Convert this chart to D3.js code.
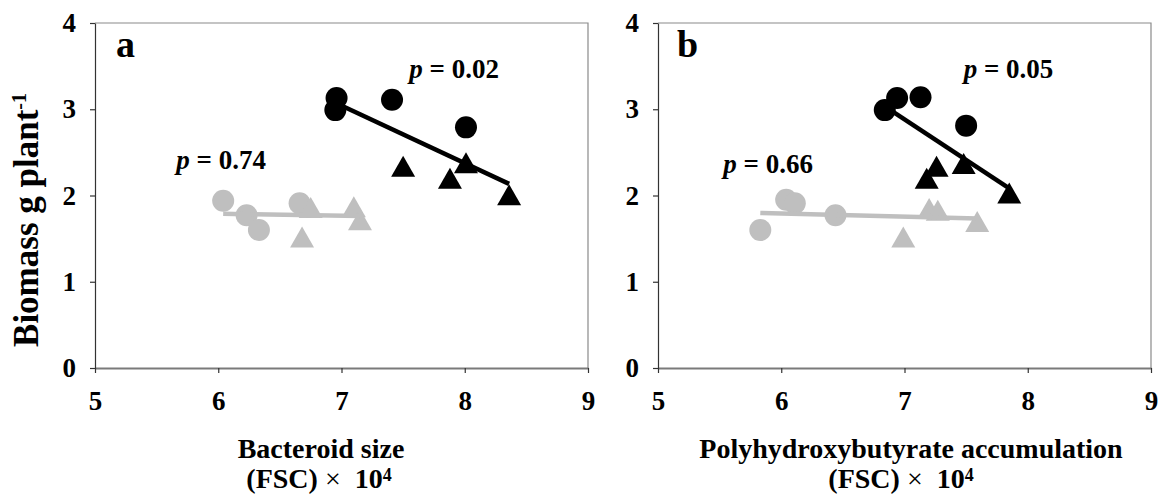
<!DOCTYPE html>
<html>
<head>
<meta charset="utf-8">
<script src="https://cdn.jsdelivr.net/npm/d3@7"></script>
<style>
  html, body { margin: 0; padding: 0; background: #fff; }
  svg { display: block; font-family: "Liberation Serif", "Times New Roman", serif; }
</style>
</head>
<body>
<svg id="chart" width="1162" height="495"></svg>
<script>
// Axis ticks shared by both panels
const xTicks = [5, 6, 7, 8, 9];
const yTicks = [0, 1, 2, 3, 4];

// Panel a: bacteroid size (FSC x 10^4) vs biomass (g plant-1)
const aBlackCircleX = [6.96, 6.95, 7.41, 8.01];
const aBlackCircleY = [3.13, 2.99, 3.11, 2.79];
const aBlackTriX    = [7.50, 7.88, 8.01, 8.36];
const aBlackTriY    = [2.34, 2.20, 2.38, 2.01];
const aGrayCircleX  = [6.04, 6.23, 6.33, 6.66];
const aGrayCircleY  = [1.94, 1.77, 1.60, 1.91];
const aGrayTriX     = [6.75, 6.68, 7.10, 7.15];
const aGrayTriY     = [1.86, 1.52, 1.87, 1.72];

// Panel b: polyhydroxybutyrate accumulation (FSC x 10^4) vs biomass
const bBlackCircleX = [6.84, 6.94, 7.13, 7.50];
const bBlackCircleY = [2.99, 3.13, 3.14, 2.81];
const bBlackTriX    = [7.18, 7.26, 7.48, 7.85];
const bBlackTriY    = [2.20, 2.34, 2.37, 2.03];
const bGrayCircleX  = [5.83, 6.04, 6.11, 6.44];
const bGrayCircleY  = [1.60, 1.95, 1.91, 1.77];
const bGrayTriX     = [6.99, 7.20, 7.27, 7.59];
const bGrayTriY     = [1.52, 1.85, 1.83, 1.70];

// p-values of the regressions
const aPValues = ["0.02", "0.74"];
const bPValues = ["0.05", "0.66"];

const BLACK = "#000000";
const GRAY = "#bfbfbf";

const svg = d3.select("#chart");
const TOP = 23, BOTTOM = 368;

function zip(xs, ys) { return xs.map((v, i) => ({ x: v, y: ys[i] })); }

function linearFit(pts) {
  const mx = d3.mean(pts, d => d.x), my = d3.mean(pts, d => d.y);
  let sxy = 0, sxx = 0;
  pts.forEach(d => { sxy += (d.x - mx) * (d.y - my); sxx += (d.x - mx) ** 2; });
  const slope = sxy / sxx;
  return { slope, intercept: my - slope * mx, x0: d3.min(pts, d => d.x), x1: d3.max(pts, d => d.x) };
}

function drawPanel(cfg) {
  const x = d3.scaleLinear().domain([5, 9]).range([cfg.left, cfg.right]);
  const y = d3.scaleLinear().domain([0, 4]).range([BOTTOM, TOP]);
  const g = svg.append("g");

  // frame: top and right sides
  g.append("path")
    .attr("d", `M${cfg.left},${TOP}H${cfg.right}V${BOTTOM}`)
    .attr("fill", "none").attr("stroke", "#8a8a8a").attr("stroke-width", 1.2);

  const xAxis = g.append("g")
    .attr("transform", `translate(0,${BOTTOM})`)
    .call(d3.axisBottom(x).tickValues(xTicks).tickSize(5).tickSizeOuter(0)
      .tickPadding(18).tickFormat(d3.format("d")));
  xAxis.select(".domain").attr("stroke", "#7a7a7a").attr("stroke-width", 1.8);

  const yAxis = g.append("g")
    .attr("transform", `translate(${cfg.left},0)`)
    .call(d3.axisLeft(y).tickValues(yTicks).tickSize(5).tickSizeOuter(0)
      .tickPadding(14).tickFormat(d3.format("d")));
  yAxis.select(".domain").attr("stroke", "#333").attr("stroke-width", 1.2);

  [xAxis, yAxis].forEach(ax => {
    ax.selectAll(".tick line").attr("stroke", "#333").attr("stroke-width", 1.2);
    ax.selectAll(".tick text")
      .attr("fill", "#000").style("font-size", "27px").style("font-weight", "bold")
      .style("font-family", "'Liberation Serif','Times New Roman',serif");
  });

  // markers and trend lines, gray group first
  const groups = [
    { circles: cfg.grayCircles, tris: cfg.grayTris, color: GRAY },
    { circles: cfg.blackCircles, tris: cfg.blackTris, color: BLACK }
  ];
  groups.forEach(grp => {
    g.append("g").selectAll("circle").data(grp.circles).join("circle")
      .attr("cx", d => x(d.x)).attr("cy", d => y(d.y)).attr("r", 11)
      .attr("fill", grp.color);
    g.append("g").selectAll("path").data(grp.tris).join("path")
      .attr("d", d => {
        const cx = x(d.x), cy = y(d.y);
        return `M${cx},${cy - 10.5}L${cx + 12},${cy + 10.5}L${cx - 12},${cy + 10.5}Z`;
      })
      .attr("fill", grp.color);
    // least-squares line through all points of the group
    const fit = linearFit(grp.circles.concat(grp.tris));
    g.append("line")
      .attr("x1", x(fit.x0)).attr("y1", y(fit.intercept + fit.slope * fit.x0))
      .attr("x2", x(fit.x1)).attr("y2", y(fit.intercept + fit.slope * fit.x1))
      .attr("stroke", grp.color).attr("stroke-width", 4.5);
  });

  // panel letter
  g.append("text")
    .attr("x", cfg.left + cfg.letterDx).attr("y", TOP + 34)
    .style("font-size", "38px").style("font-weight", "bold").text(cfg.letter);

  // p-value annotations
  cfg.pLabels.forEach(lbl => {
    const t = g.append("text")
      .attr("x", x(lbl.x)).attr("y", y(lbl.y))
      .style("font-size", "27px").style("font-weight", "bold");
    t.append("tspan").style("font-style", "italic").text("p");
    t.append("tspan").text(" = " + lbl.text);
  });

  // x-axis title, two lines
  g.append("text")
    .attr("x", cfg.titleX).attr("y", 458).attr("text-anchor", "middle")
    .style("font-size", "28px").style("font-weight", "bold").text(cfg.title);
  const t2 = g.append("text")
    .attr("x", cfg.title2X).attr("y", 488).attr("text-anchor", "middle")
    .style("font-size", "28px").style("font-weight", "bold");
  t2.append("tspan").text("(FSC) ");
  t2.append("tspan").style("font-weight", "normal").text("\u00d7");
  t2.append("tspan").text("\u00a0 10");
  t2.append("tspan").attr("dy", -7).style("font-size", "18px").text("4");
}

drawPanel({
  left: 95, right: 588, letter: "a", letterDx: 21,
  blackCircles: zip(aBlackCircleX, aBlackCircleY), blackTris: zip(aBlackTriX, aBlackTriY),
  grayCircles: zip(aGrayCircleX, aGrayCircleY), grayTris: zip(aGrayTriX, aGrayTriY),
  pLabels: [{ x: 7.55, y: 3.36, text: aPValues[0] }, { x: 5.66, y: 2.31, text: aPValues[1] }],
  title: "Bacteroid size", titleX: 321, title2X: 319
});

drawPanel({
  left: 658, right: 1151, letter: "b", letterDx: 19,
  blackCircles: zip(bBlackCircleX, bBlackCircleY), blackTris: zip(bBlackTriX, bBlackTriY),
  grayCircles: zip(bGrayCircleX, bGrayCircleY), grayTris: zip(bGrayTriX, bGrayTriY),
  pLabels: [{ x: 7.48, y: 3.36, text: bPValues[0] }, { x: 5.53, y: 2.26, text: bPValues[1] }],
  title: "Polyhydroxybutyrate accumulation", titleX: 911, title2X: 901
});

// shared y-axis title
const yt = svg.append("text")
  .attr("transform", "translate(38,220) rotate(-90)")
  .attr("text-anchor", "middle")
  .style("font-size", "35px").style("font-weight", "bold");
yt.append("tspan").text("Biomass g plant");
yt.append("tspan").attr("dy", -12).style("font-size", "20px").text("-1");
</script>
</body>
</html>
